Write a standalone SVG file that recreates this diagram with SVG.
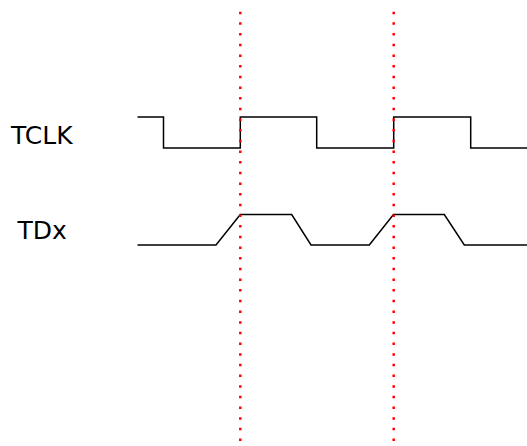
<svg xmlns="http://www.w3.org/2000/svg" width="527" height="446" viewBox="0 0 527 446">
<style>
.sig{fill:none;stroke:#000;stroke-width:1.5;stroke-linejoin:miter}
.mark{fill:none;stroke:#ff0000;stroke-width:2.5;stroke-dasharray:2.5 8.17}
.lbl{font-family:"DejaVu Sans",sans-serif;font-size:25px;fill:#000}
</style>
<rect width="527" height="446" fill="#fff"/>
<g id="labels">
<text class="lbl" x="11" y="144">TCLK</text>
<text class="lbl" x="17.5" y="239">TDx</text>
</g>
<g id="connectors">
<path id="tclk" class="sig" d="M137.5,117 H163.5 V148 H240.3 V117 H316.7 V148 H393.7 V117 H470.7 V148 H527"/>
<path id="tdx" class="sig" d="M137.5,245 H216 L240.3,214.5 H291.7 L311,245 H369.3 L393.5,214.5 H444.3 L464.3,245 H527"/>
<line id="mark1" class="mark" x1="240.3" y1="11.7" x2="240.3" y2="441"/>
<line id="mark2" class="mark" x1="393.7" y1="11.7" x2="393.7" y2="441"/>
</g>
</svg>
